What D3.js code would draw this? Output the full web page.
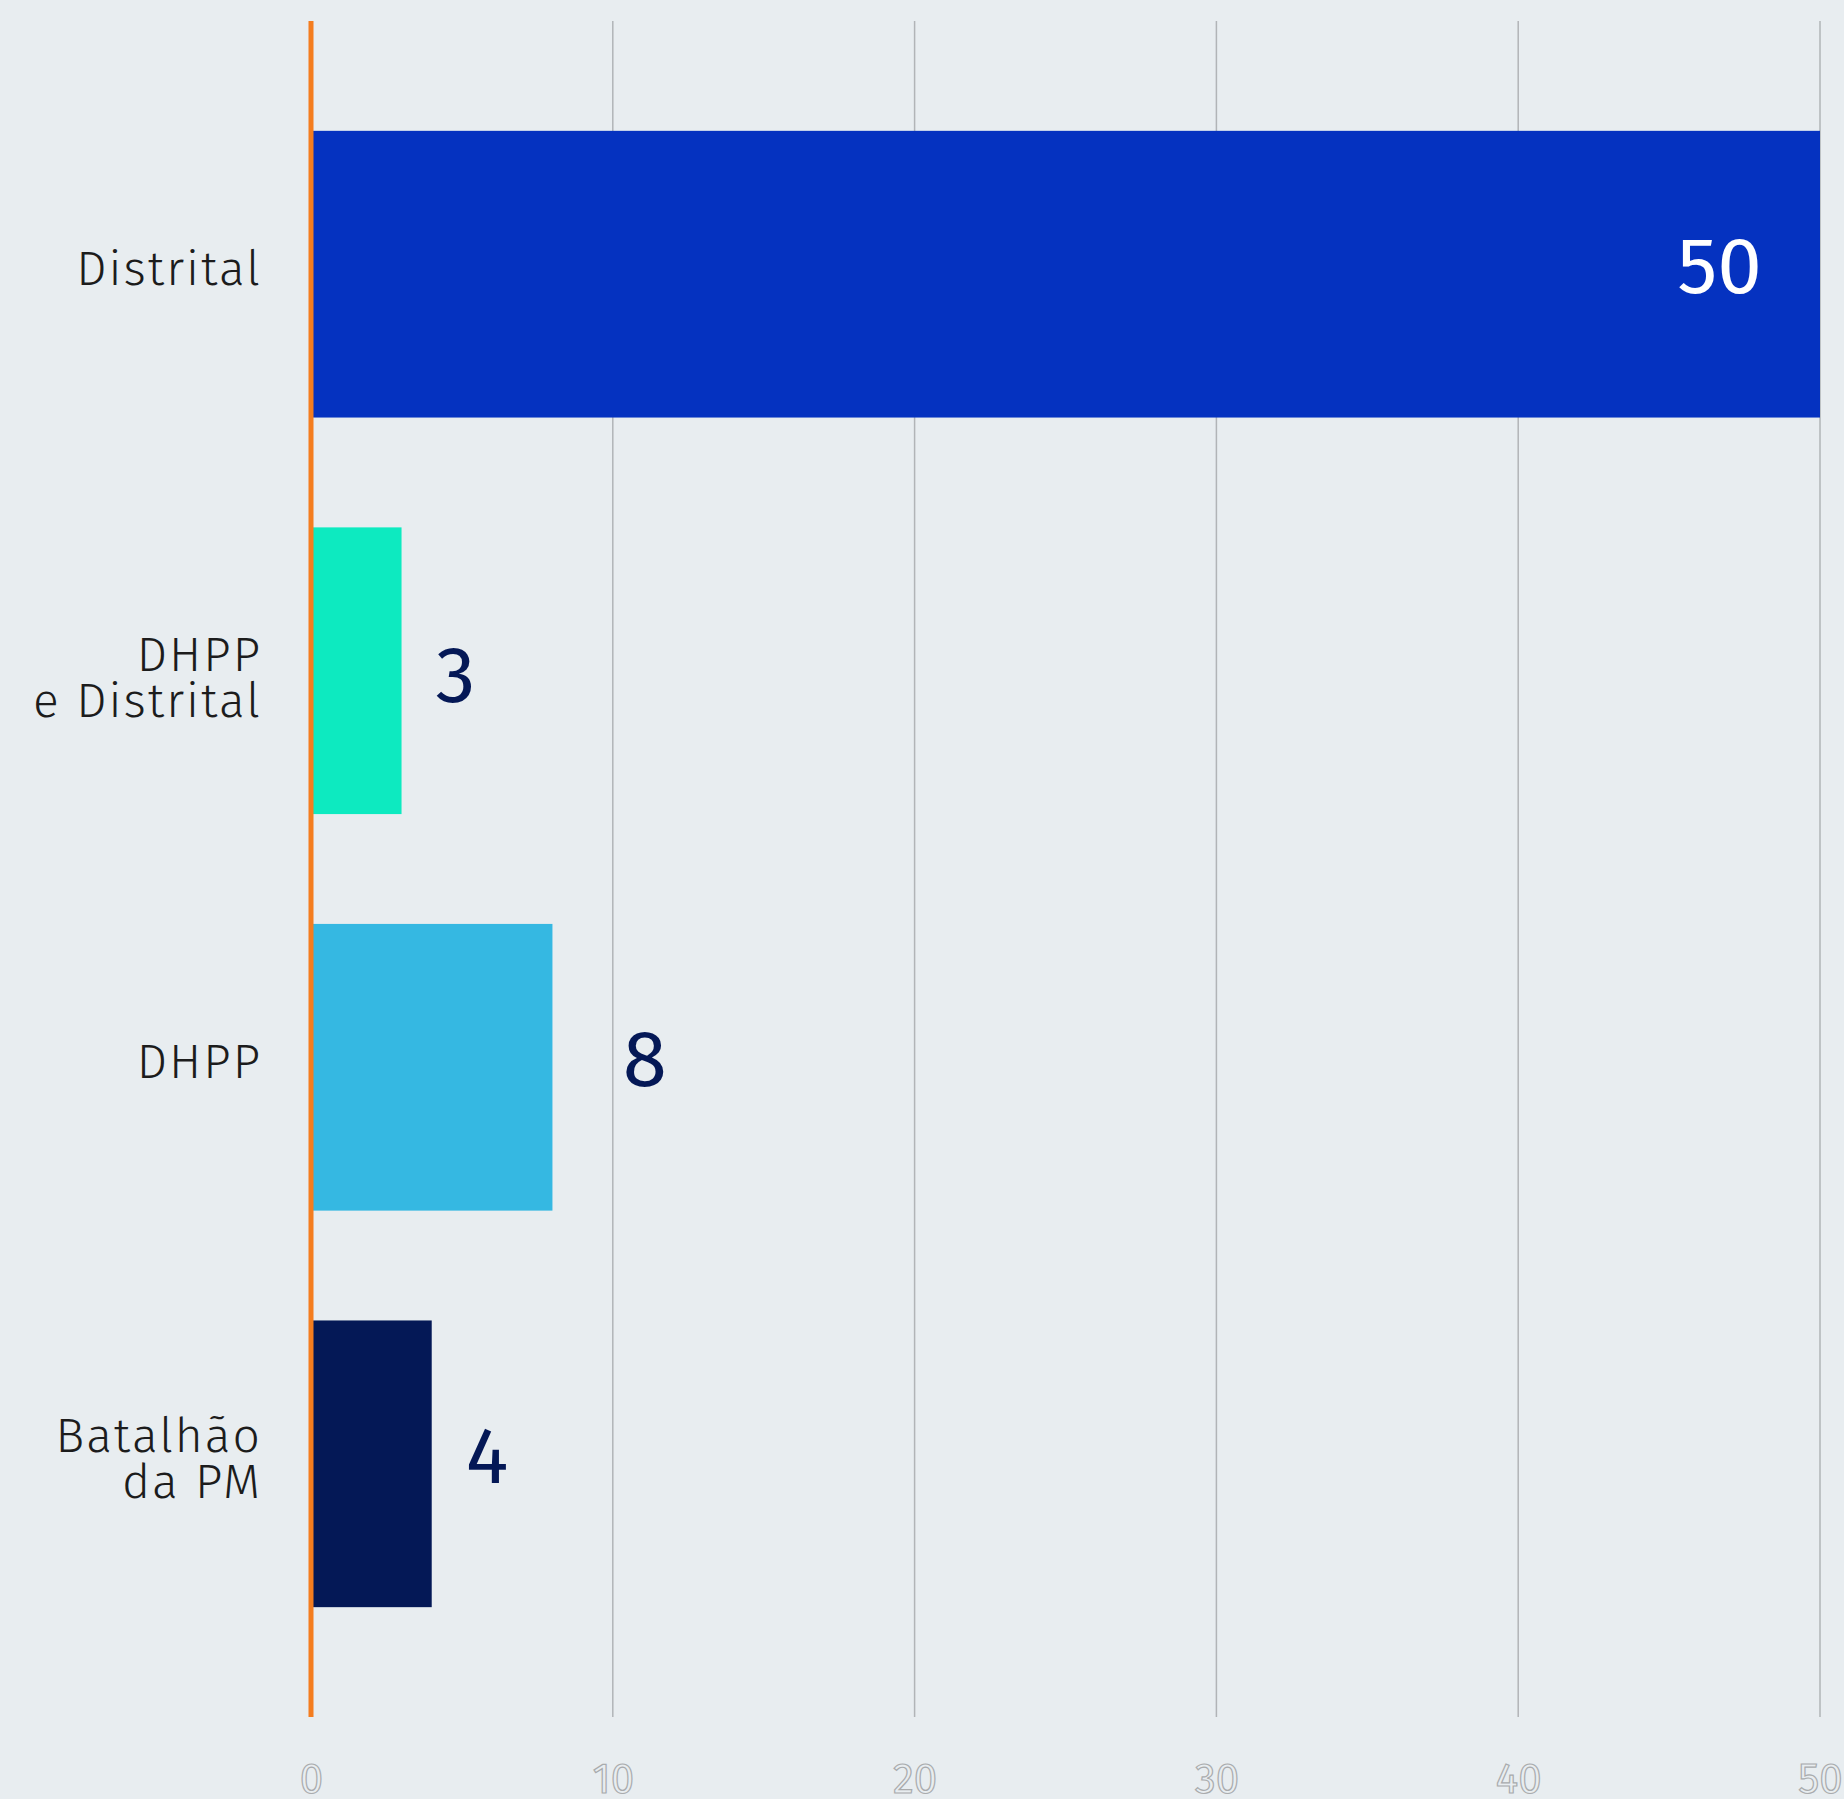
<!DOCTYPE html>
<html>
<head>
<meta charset="utf-8">
<script src="https://cdn.jsdelivr.net/npm/d3@7"></script>
<style>
  html, body { margin: 0; padding: 0; background: #e8edf0; }
  svg { display: block; }
</style>
</head>
<body>
<svg id="chart" width="1844" height="1799"></svg>
<script>
// Who investigated the cases
const categories = ["Distrital", "DHPP\ne Distrital", "DHPP", "Batalhão\nda PM"];
const values = [50, 3, 8, 4];
const barColors = ["#0532c0", "#0deac0", "#35b8e2", "#041856"];
const tickValues = [0, 10, 20, 30, 40, 50];
// extra downward shift of each row's labels, in px
const rowLabelShift = [0, 12, 0, 0];

const W = 1844, H = 1799;
const plot = { left: 311, right: 1820, top: 21, bottom: 1717 };
const FONT = "'Fira Sans', 'Noto Sans', sans-serif";

const svg = d3.select("#chart");
svg.append("rect").attr("width", W).attr("height", H).attr("fill", "#e8edf0");

const x = d3.scaleLinear().domain([0, 50]).range([plot.left, plot.right]);
const y = d3.scaleBand().domain(categories).range([plot.top, plot.bottom])
  .paddingInner(0.277).paddingOuter(0.277);

// vertical gridlines
svg.append("g")
  .selectAll("line")
  .data(tickValues.filter(d => d > 0))
  .join("line")
  .attr("x1", d => x(d)).attr("x2", d => x(d))
  .attr("y1", plot.top).attr("y2", plot.bottom)
  .attr("stroke", "#b1b4b7").attr("stroke-width", 1.5);

// bottom tick labels (outlined numerals)
const axis = d3.axisBottom(x).tickValues(tickValues).tickSize(0).tickPadding(0);
const axisG = svg.append("g")
  .attr("transform", `translate(0, ${plot.bottom + 46})`)
  .call(axis);
axisG.select(".domain").remove();
axisG.selectAll("text")
  .attr("font-family", FONT)
  .attr("font-size", 42)
  .attr("dy", "0.71em")
  .attr("fill", "#e8edf0")
  .attr("stroke", "#a9abad")
  .attr("stroke-width", 1.2);

const rows = categories.map((c, i) => ({
  cat: c, value: values[i], color: barColors[i], shift: rowLabelShift[i]
}));

// bars
svg.append("g")
  .selectAll("rect")
  .data(rows)
  .join("rect")
  .attr("x", x(0))
  .attr("y", d => y(d.cat))
  .attr("width", d => x(d.value) - x(0))
  .attr("height", y.bandwidth())
  .attr("fill", d => d.color);

// zero baseline
svg.append("line")
  .attr("x1", x(0)).attr("x2", x(0))
  .attr("y1", plot.top).attr("y2", plot.bottom)
  .attr("stroke", "#f47d1f").attr("stroke-width", 5);

// category labels, possibly on two lines
const lineH = 46;
const catG = svg.append("g");
rows.forEach(d => {
  const lines = d.cat.split("\n");
  const mid = y(d.cat) + y.bandwidth() / 2 - 6 + d.shift;
  const firstBase = mid - (lines.length - 1) * lineH / 2 + 17;
  const t = catG.append("text")
    .attr("text-anchor", "end")
    .attr("font-family", FONT)
    .attr("font-size", 48)
    .attr("font-weight", 300)
    .attr("letter-spacing", 2)
    .attr("fill", "#1c1c1c");
  lines.forEach((ln, j) => {
    t.append("tspan").attr("x", 262).attr("y", firstBase + j * lineH).text(ln);
  });
});

// value labels: inside the bar when it is long, otherwise just past its end,
// nudged clear of any gridline it would sit on
const valG = svg.append("g");
rows.forEach(d => {
  const end = x(d.value);
  const cy = y(d.cat) + y.bandwidth() / 2 + 19 + d.shift;
  const t = valG.append("text")
    .attr("font-family", FONT)
    .attr("font-size", 80)
    .attr("font-weight", 400)
    .attr("y", cy)
    .text(d.value);
  if (d.value >= 40) {
    t.attr("text-anchor", "end").attr("x", end - 58).attr("fill", "#ffffff");
  } else {
    let tx = end + 34;
    t.attr("x", tx).attr("fill", "#041856");
    const w = t.node().getComputedTextLength();
    tickValues.forEach(v => {
      const gx = x(v);
      if (gx > tx - 4 && gx < tx + w + 4) tx = gx + 10;
    });
    t.attr("x", tx);
  }
});
</script>
</body>
</html>
